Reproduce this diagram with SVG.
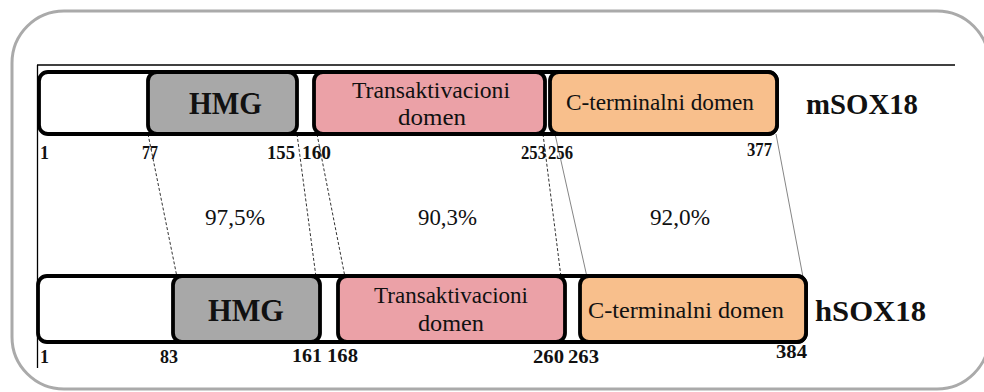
<svg xmlns="http://www.w3.org/2000/svg" width="984" height="392" viewBox="0 0 984 392">
<style>
.bar{fill:#ffffff;stroke:#000;stroke-width:3.8}
.hmg{fill:#a8a8a8;stroke:#000;stroke-width:3.8}
.ta{fill:#eba1a7;stroke:#000;stroke-width:3.8}
.ct{fill:#f8bf8c;stroke:#000;stroke-width:3.8}
.t{font-family:"Liberation Serif","Times New Roman",serif;fill:#111}
.b{font-weight:bold}
.num{font-family:"Liberation Serif","Times New Roman",serif;font-weight:bold;font-size:18px;fill:#111}
.dash{stroke:#333;stroke-width:1;stroke-dasharray:3 2;fill:none}
.thin{stroke:#777;stroke-width:0.9;fill:none}
</style>
<rect width="984" height="392" fill="#fff"/>
<rect x="12" y="11" width="977" height="378" rx="52" ry="52" fill="none" stroke="#aaaaaa" stroke-width="3"/>
<g id="frame">
<line x1="37" y1="65" x2="955" y2="65" stroke="#000" stroke-width="1.3"/>
<line x1="37.5" y1="65" x2="37.5" y2="368" stroke="#000" stroke-width="1.3"/>
</g>
<g id="connectors">
<line class="dash" x1="148" y1="134" x2="177" y2="277"/>
<line class="dash" x1="297" y1="134" x2="316" y2="277"/>
<line class="dash" x1="317" y1="134" x2="345" y2="277"/>
<line class="dash" x1="543" y1="134" x2="561" y2="277"/>
<line class="thin" x1="555" y1="134" x2="587" y2="277"/>
<line class="thin" x1="776" y1="134" x2="803" y2="277"/>
</g>
<g id="mSOX18">
<rect class="bar" x="39" y="72" width="738" height="62" rx="9"/>
<rect class="hmg" x="148" y="72" width="149" height="62" rx="9"/>
<rect class="ta" x="314" y="72" width="231" height="62" rx="9"/>
<rect class="ct" x="550" y="72" width="227" height="62" rx="9"/>
<text class="t b" x="189" y="114" font-size="31" textLength="73" lengthAdjust="spacingAndGlyphs">HMG</text>
<text class="t" x="352" y="98" font-size="24" textLength="158" lengthAdjust="spacingAndGlyphs">Transaktivacioni</text>
<text class="t" x="398" y="125" font-size="24" textLength="68" lengthAdjust="spacingAndGlyphs">domen</text>
<text class="t" x="566" y="110" font-size="24" textLength="188" lengthAdjust="spacingAndGlyphs">C-terminalni domen</text>
<text class="t b" x="806" y="114" font-size="30" textLength="112" lengthAdjust="spacingAndGlyphs">mSOX18</text>
<text class="num" x="40" y="159">1</text>
<text class="num" x="142" y="159" textLength="16" lengthAdjust="spacingAndGlyphs">77</text>
<text class="num" x="267" y="159" textLength="28" lengthAdjust="spacingAndGlyphs">155</text>
<text class="num" x="302" y="159" textLength="29" lengthAdjust="spacingAndGlyphs">160</text>
<text class="num" x="521" y="159" textLength="25" lengthAdjust="spacingAndGlyphs">253</text>
<text class="num" x="548" y="159" textLength="25" lengthAdjust="spacingAndGlyphs">256</text>
<text class="num" x="747" y="156" textLength="25" lengthAdjust="spacingAndGlyphs">377</text>
</g>
<g id="hSOX18">
<rect class="bar" x="38" y="276" width="768" height="66" rx="9"/>
<rect class="hmg" x="173" y="276" width="147" height="66" rx="9"/>
<rect class="ta" x="338" y="276" width="227" height="66" rx="9"/>
<rect class="ct" x="580" y="276" width="226" height="66" rx="9"/>
<text class="t b" x="208" y="321" font-size="31" textLength="76" lengthAdjust="spacingAndGlyphs">HMG</text>
<text class="t" x="374" y="303" font-size="24" textLength="154" lengthAdjust="spacingAndGlyphs">Transaktivacioni</text>
<text class="t" x="418" y="331" font-size="24" textLength="66" lengthAdjust="spacingAndGlyphs">domen</text>
<text class="t" x="588" y="318" font-size="24" textLength="196" lengthAdjust="spacingAndGlyphs">C-terminalni domen</text>
<text class="t b" x="815" y="321" font-size="30" textLength="111" lengthAdjust="spacingAndGlyphs">hSOX18</text>
<text class="num" x="40" y="363">1</text>
<text class="num" x="160" y="363" textLength="18" lengthAdjust="spacingAndGlyphs">83</text>
<text class="num" x="292" y="362" textLength="30" lengthAdjust="spacingAndGlyphs">161</text>
<text class="num" x="327" y="362" textLength="31" lengthAdjust="spacingAndGlyphs">168</text>
<text class="num" x="533" y="363" textLength="31" lengthAdjust="spacingAndGlyphs">260</text>
<text class="num" x="568" y="363" textLength="31" lengthAdjust="spacingAndGlyphs">263</text>
<text class="num" x="776" y="358" textLength="31" lengthAdjust="spacingAndGlyphs">384</text>
</g>
<g id="percentages">
<text class="t" x="205" y="225" font-size="24" textLength="60" lengthAdjust="spacingAndGlyphs">97,5%</text>
<text class="t" x="418" y="225" font-size="24" textLength="59" lengthAdjust="spacingAndGlyphs">90,3%</text>
<text class="t" x="650" y="225" font-size="24" textLength="60" lengthAdjust="spacingAndGlyphs">92,0%</text>
</g>
</svg>
